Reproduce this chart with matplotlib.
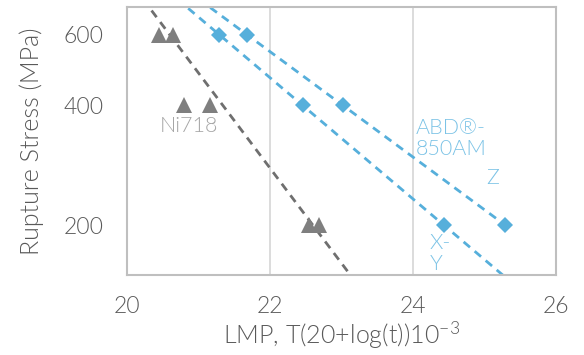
import numpy as np
import matplotlib
matplotlib.use("Agg")
import matplotlib.pyplot as plt
from matplotlib.ticker import FixedLocator, NullLocator

plt.rcParams['font.family'] = ['Lato', 'DejaVu Sans']
plt.rcParams['mathtext.fontset'] = 'custom'
plt.rcParams['mathtext.rm'] = 'Lato'
plt.rcParams['mathtext.default'] = 'regular'

# data
ni_x = [20.45, 20.64, 20.80, 21.16, 22.55, 22.69]
ni_y = [600, 600, 400, 400, 200, 200]
z_x = [21.68, 23.02, 25.29]
z_y = [600, 400, 200]
xy_x = [21.29, 22.46, 24.43]
xy_y = [600, 400, 200]
# Ni718 trendline as drawn in the source (LMP at two stresses)
ni_trend_x = [20.60, 22.60]
ni_trend_y = [600, 200]
x_ticks = [20, 22, 24, 26]
y_ticks = [200, 400, 600]

gray = '#7f7f7f'
blue = '#56afdb'
tick_col = '#595959'
W = 300

fig = plt.figure(figsize=(5.84, 3.55), dpi=100)
ax = fig.add_axes([127/584, 1-275/355, (556-127)/584, (275-7)/355])
ax.set_yscale('log')
ax.set_xlim(20, 26)
ax.set_ylim(150, 705)

def trend(xs, ys, x0, x1):
    p = np.polyfit(xs, np.log10(ys), 1)
    xx = np.linspace(x0, x1, 50)
    return xx, 10**np.polyval(p, xx)

dash = (0, (3, 2.2))
xx, yy = trend(ni_trend_x, ni_trend_y, 19.5, 26)
ax.plot(xx, yy, ls=dash, color='#6f6f6f', lw=2)
xx, yy = trend(z_x, z_y, 19.5, max(z_x))
ax.plot(xx, yy, ls=dash, color=blue, lw=2)
xx, yy = trend(xy_x, xy_y, 19.5, 26)
ax.plot(xx, yy, ls=dash, color=blue, lw=2)

ax.plot(ni_x, ni_y, ls='none', marker='^', ms=12, color=gray, mew=0)
ax.plot(z_x, z_y, ls='none', marker='D', ms=8.5, color=blue, mew=0)
ax.plot(xy_x, xy_y, ls='none', marker='D', ms=8.5, color=blue, mew=0)

for v in [22, 24]:
    ax.axvline(v, color='#d9d9d9', lw=1.3, zorder=0)

for s in ax.spines.values():
    s.set_color('#bfbfbf')
    s.set_linewidth(1.5)

ax.xaxis.set_major_locator(FixedLocator(x_ticks))
ax.set_xticklabels([str(v) for v in x_ticks])
ax.yaxis.set_major_locator(FixedLocator(y_ticks))
ax.yaxis.set_minor_locator(NullLocator())
ax.set_yticklabels([str(v) for v in y_ticks])
ax.tick_params(length=0, labelsize=16.5, colors=tick_col, pad=15)
ax.tick_params(axis='y', pad=17)
for lab in ax.get_xticklabels() + ax.get_yticklabels():
    lab.set_fontweight(W)

ax.set_xlabel('LMP, T(20+log(t))10$^{-3}$', fontsize=18, color=tick_col,
              fontweight=W, labelpad=2)
ax.set_ylabel('Rupture Stress (MPa)', fontsize=18, color=tick_col,
              fontweight=W, labelpad=14)

lab_blue = '#7cc3e6'
fs_lab = 15.5
ax.text(20.46, 355, 'Ni718', fontsize=fs_lab, color='#a6a6a6', fontweight=W, va='center')
ax.text(24.04, 330, 'ABD®-\n850AM', fontsize=fs_lab, color=lab_blue, fontweight=W,
        va='center', linespacing=1.1)
ax.text(25.02, 262, 'Z', fontsize=fs_lab, color=lab_blue, fontweight=W, va='center')
ax.text(24.23, 170, 'X-\nY', fontsize=fs_lab, color=lab_blue, fontweight=W,
        va='center', linespacing=1.1, clip_on=True)

fig.savefig('out.png', dpi=100)
